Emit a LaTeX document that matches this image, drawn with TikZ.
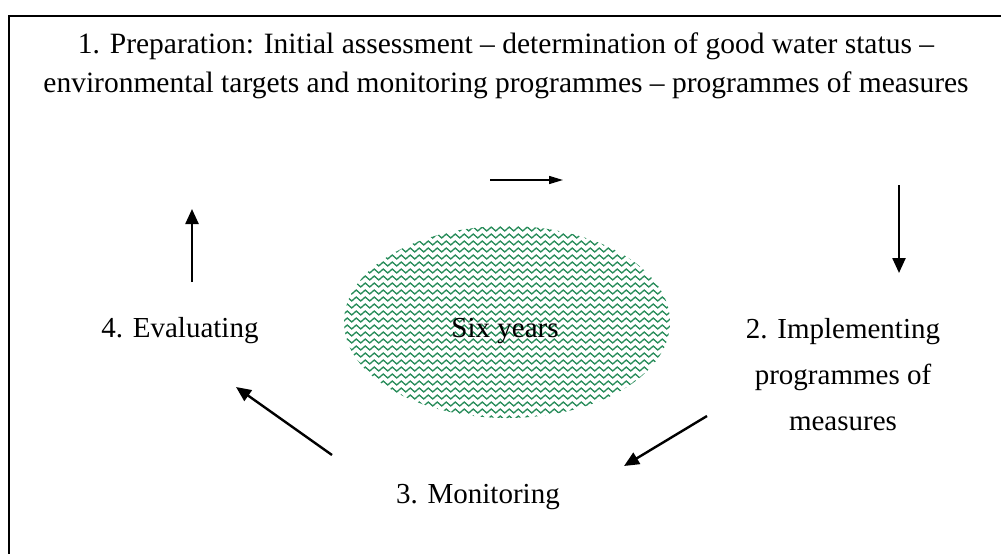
\documentclass[tikz,border=0pt]{standalone}
\usepackage{fontspec}
\setmainfont{Liberation Serif}
\usetikzlibrary{arrows.meta,decorations.pathmorphing}
\definecolor{wavegreen}{RGB}{40,140,90}
\tikzset{
  lbl/.style={font=\fontsize{29}{46}\selectfont, inner sep=0pt, align=center},
  flow/.style={line width=2.4pt, -{Triangle[length=15pt,width=13pt]}},
  wave/.style={wavegreen, line width=1.3pt, decorate, decoration={zigzag, segment length=9pt, amplitude=2pt}}
}
\begin{document}
\begin{tikzpicture}[x=1pt,y=-1pt]
\useasboundingbox (0,0) rectangle (1001,554);
% frame
\draw[line width=2pt] (9,554) -- (9,16) -- (1001,16);
% ellipse with wavy pattern
\begin{scope}
  \clip (507,322) ellipse [x radius=163, y radius=96];
  \foreach \yy in {222,229,...,425} {
    \draw[wave] (336,\yy) -- (680,\yy);
  }
\end{scope}
\node[lbl, anchor=base] (six) at (505,337) {Six years};
% texts
\node[lbl, font=\fontsize{29.5}{39}\selectfont, anchor=base] (prep) at (506,92) {1. Preparation: Initial assessment -- determination of good water status --\\environmental targets and monitoring programmes -- programmes of measures};
\node[lbl, anchor=base] (eval) at (180,337) {4. Evaluating};
\node[lbl, anchor=base] (impl) at (843,430) {2. Implementing\\programmes of\\measures};
\node[lbl, anchor=base] (mon) at (478,503) {3. Monitoring};
% arrow coordinates
\coordinate (t1) at (490,180); \coordinate (t2) at (563,180);
\coordinate (r1) at (899,185); \coordinate (r2) at (899,273);
\coordinate (l1) at (192,282); \coordinate (l2) at (192,209);
\coordinate (ll1) at (332,455); \coordinate (ll2) at (236,387);
\coordinate (lr1) at (707,416); \coordinate (lr2) at (624,466);
\draw[line width=1.5pt, -{Triangle[length=14pt,width=8pt]}] (t1) -- (t2);
\draw[flow] (r1) -- (r2);
\draw[flow] (l1) -- (l2);
\draw[flow] (ll1) -- (ll2);
\draw[flow] (lr1) -- (lr2);
\end{tikzpicture}
\end{document}
